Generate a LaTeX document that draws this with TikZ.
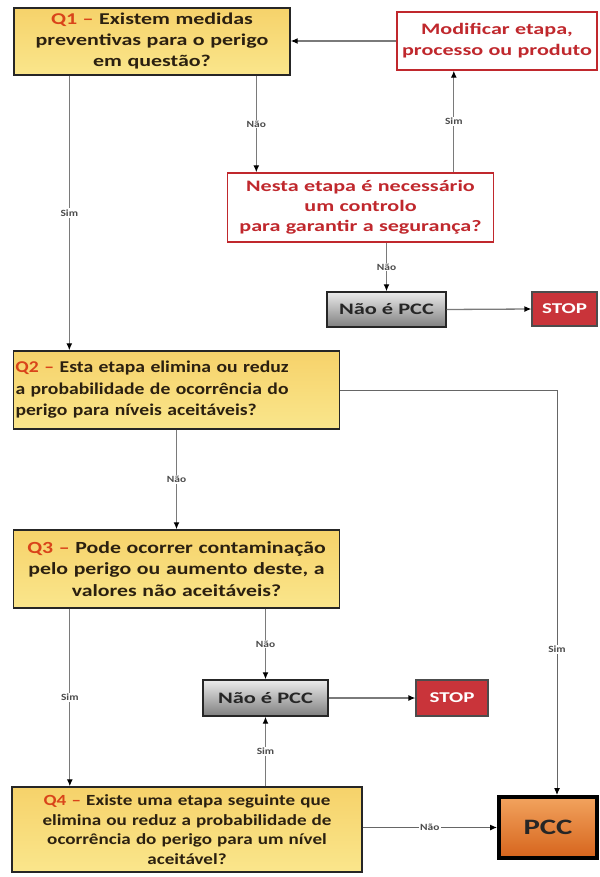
\documentclass[tikz,border=0pt]{standalone}
\usepackage{fontspec}
\setmainfont{Carlito}[FakeStretch=1.2]
\newfontfamily\fQone{Carlito}[FakeStretch=1.33]
\newfontfamily\fQtwo{Carlito}[FakeStretch=1.19]
\newfontfamily\fQthree{Carlito}[FakeStretch=1.28]
\newfontfamily\fQfour{Carlito}[FakeStretch=1.23]
\newfontfamily\fRed{Carlito}[FakeStretch=1.38]
\newfontfamily\fWide{Carlito}[FakeStretch=1.4]
\usetikzlibrary{arrows.meta,shadings}
\definecolor{qred}{HTML}{D9441A}
\definecolor{qtext}{HTML}{2B2010}
\definecolor{qtop}{HTML}{F6D26A}
\definecolor{qbot}{HTML}{FAE68C}
\definecolor{boxred}{HTML}{C0282D}
\definecolor{stopred}{HTML}{C9343A}
\definecolor{linegray}{HTML}{7A7A7A}
\definecolor{pcctop}{HTML}{F2A35E}
\definecolor{pccbot}{HTML}{D6641C}
\begin{document}
\begin{tikzpicture}[x=1pt,y=-1pt,
  qbox/.style={draw=black!85, line width=1.4pt, top color=qtop, bottom color=qbot, inner sep=2pt,
    text=qtext, align=center},
  redbox/.style={draw=boxred, line width=1.4pt, fill=white, inner sep=2pt, text=boxred,
    font=\fRed\bfseries\fontsize{16}{21}\selectfont, align=center},
  graybox/.style={draw=black!85, line width=1.4pt, top color=black!8, bottom color=black!50, inner sep=2pt,
    font=\fWide\bfseries\fontsize{16}{20}\selectfont, text=black!85},
  stopbox/.style={draw=black!70, line width=1.2pt, fill=stopred, inner sep=2pt, text=white,
    font=\fWide\bfseries\fontsize{15}{18}\selectfont},
  pccbox/.style={draw=black, line width=4pt, top color=pcctop, bottom color=pccbot, inner sep=2pt,
    font=\fWide\bfseries\fontsize{22}{24}\selectfont, text=black!85},
  conn/.style={draw=linegray, line width=1.3pt, -{Latex[length=7pt,width=6pt,color=black]}},
  lbl/.style={fill=white, inner sep=1.2pt, font=\bfseries\fontsize{9.5}{11}\selectfont, text=black!70}
]
\useasboundingbox (0,0) rectangle (599,877);

\node[qbox, font=\fQone\bfseries\fontsize{16.5}{21}\selectfont, minimum width=276pt, minimum height=67pt, text width=272pt] (q1) at (152,41.5)
  {{\color{qred}Q1 –} Existem medidas\\preventivas para o perigo\\em questão?};
\node[redbox, minimum width=198pt, minimum height=58pt, text width=196pt] (modif) at (497,41)
  {Modificar etapa,\\processo ou produto};
\node[redbox, font=\fRed\bfseries\fontsize{16}{20}\selectfont, minimum width=265pt, minimum height=69pt, text width=262pt] (nesta) at (360.5,207.5)
  {Nesta etapa é necessário\\um controlo\\para garantir a segurança?};
\node[graybox, minimum width=119pt, minimum height=35pt] (nao1) at (386.5,309.5) {Não é PCC};
\node[stopbox, minimum width=65pt, minimum height=34pt] (stop1) at (564.5,309) {STOP};

\node[qbox, font=\fQtwo\bfseries\fontsize{16.5}{21.5}\selectfont, align=left, minimum width=325pt, minimum height=78pt, text width=322pt] (q2) at (176.5,390)
  {{\color{qred}Q2 –} Esta etapa elimina ou reduz\\a probabilidade de ocorrência do\\perigo para níveis aceitáveis?};
\node[qbox, font=\fQthree\bfseries\fontsize{17}{21.7}\selectfont, minimum width=325pt, minimum height=78pt, text width=322pt] (q3) at (176.5,569)
  {{\color{qred}Q3 –} Pode ocorrer contaminação\\pelo perigo ou aumento deste, a\\valores não aceitáveis?};
\node[graybox, minimum width=125pt, minimum height=36pt] (nao2) at (265.5,698) {Não é PCC};
\node[stopbox, minimum width=72pt, minimum height=36pt] (stop2) at (452,698) {STOP};
\node[qbox, font=\fQfour\bfseries\fontsize{15.5}{19.5}\selectfont, minimum width=350pt, minimum height=85pt, text width=346pt] (q4) at (187,829.5)
  {{\color{qred}Q4 –} Existe uma etapa seguinte que\\elimina ou reduz a probabilidade de\\ocorrência do perigo para um nível\\aceitável?};
\node[pccbox, minimum width=98pt, minimum height=61pt] (pcc) at (548,827.5) {PCC};

% connectors
\draw[conn] (modif.west) -- (q1.east |- modif.west);
\draw[conn] ([xshift=56pt]q1.south west) -- ([xshift=56pt]q1.south west |- q2.north)
  node[lbl, midway] {Sim};
\draw[conn] ([xshift=243pt]q1.south west) -- ([xshift=243pt]q1.south west |- nesta.north)
  node[lbl, midway] {Não};
\draw[conn] ([xshift=227pt]nesta.north west) -- ([xshift=227pt]nesta.north west |- modif.south)
  node[lbl, midway] {Sim};
\draw[conn] (nao1.north |- nesta.south) -- (nao1.north) node[lbl, midway] {Não};
\draw[conn] (nao1.east) -- (stop1.west);
\draw[conn, draw=black!60, line width=1pt] (q2.east) -- ([xshift=9pt]pcc.north |- q2.east)
  -- ([xshift=9pt]pcc.north) node[lbl, pos=0.64] {Sim};
\draw[conn] (q2.south) -- (q3.north) node[lbl, midway] {Não};
\draw[conn] ([xshift=57pt]q3.south west) -- ([xshift=57pt]q3.south west |- q4.north)
  node[lbl, midway] {Sim};
\draw[conn] (nao2.north |- q3.south) -- (nao2.north) node[lbl, midway] {Não};
\draw[conn] (nao2.east) -- (stop2.west);
\draw[conn] (nao2.south |- q4.north) -- (nao2.south) node[lbl, midway] {Sim};
\draw[conn, draw=black!60, line width=1pt] (q4.east |- pcc.west) -- (pcc.west) node[lbl, midway] {Não};
\end{tikzpicture}
\end{document}
